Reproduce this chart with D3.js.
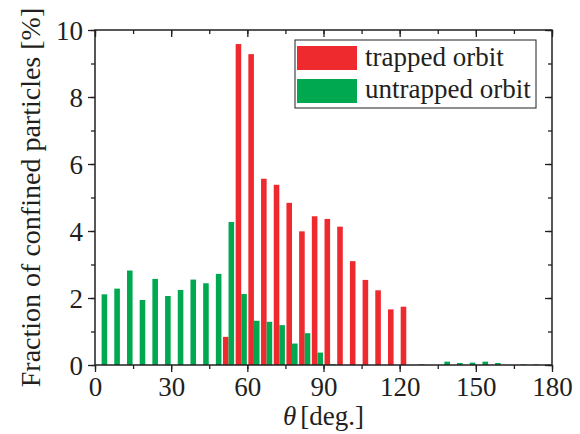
<!DOCTYPE html>
<html>
<head>
<meta charset="utf-8">
<script src="https://cdn.jsdelivr.net/npm/d3@7"></script>
<style>
  body { margin: 0; background: #fff; }
  text { font-family: "Liberation Serif", "Times New Roman", serif; fill: #231f20; }
</style>
</head>
<body>
<div id="chart-area"></div>
<script>
// bin starts, 5 degree bins from 0 to 175
let bins = d3.range(0, 180, 5);
let trapped = [0, 0, 0, 0, 0, 0, 0, 0, 0, 0,
  0.84, 9.58, 9.28, 5.56, 5.38, 4.84, 3.99, 4.44, 4.36, 4.13,
  3.10, 2.54, 2.23, 1.66, 1.74, 0, 0, 0, 0, 0,
  0, 0, 0, 0, 0, 0];
let untrapped = [2.11, 2.28, 2.82, 1.94, 2.57, 2.06, 2.24, 2.55, 2.44, 2.72,
  4.27, 2.12, 1.32, 1.29, 1.19, 0.64, 0.95, 0.37, 0.02, 0,
  0, 0, 0, 0, 0, 0.02, 0, 0.10, 0.06, 0.07,
  0.10, 0.06, 0, 0.02, 0.02, 0];
let series_names = ["trapped orbit", "untrapped orbit"];
let x_ticks = [0, 30, 60, 90, 120, 150, 180];
let y_ticks = [0, 2, 4, 6, 8, 10];

let colors = { "trapped orbit": "#ee2a2f", "untrapped orbit": "#00a84f" };

let margin = { left: 95, right: 28, top: 30, bottom: 69 };
let width = 580 - margin.left - margin.right;
let height = 434 - margin.top - margin.bottom;

let svg = d3.select("#chart-area")
  .append("svg")
    .attr("width", 580)
    .attr("height", 434);

let group = svg.append("g")
  .attr("transform", `translate(${margin.left}, ${margin.top})`);

let x = d3.scaleLinear().domain([0, 180]).range([0, width]);
let y = d3.scaleLinear().domain([0, 10]).range([height, 0]);

let bin_scale = d3.scaleBand()
  .domain(bins)
  .range([0, width])
  .padding(0);
let inner = d3.scaleBand()
  .domain(series_names)
  .range([bin_scale.bandwidth() * 0.08, bin_scale.bandwidth() * 0.96]);

// ----------------- Bars -----------------
let rows = [];
bins.forEach((b, i) => {
  rows.push({ bin: b, name: series_names[0], value: trapped[i] });
  rows.push({ bin: b, name: series_names[1], value: untrapped[i] });
});

group.selectAll("rect.bar")
  .data(rows.filter(d => d.value > 0))
  .enter()
  .append("rect")
    .attr("class", "bar")
    .attr("x", d => bin_scale(d.bin) + inner(d.name))
    .attr("width", inner.bandwidth())
    .attr("y", d => y(d.value))
    .attr("height", d => height - y(d.value))
    .attr("fill", d => colors[d.name]);

// ----------------- Axes -----------------
let axis_color = "#231f20";
function style_axis(g) {
  g.select(".domain").remove();
  g.selectAll("line").attr("stroke", axis_color).attr("stroke-width", 1.3);
}

let x_minor = d3.range(0, 181, 15);
let y_minor = d3.range(0, 11, 1);

// bottom
let xb = group.append("g").attr("transform", `translate(0, ${height})`);
xb.call(d3.axisBottom(x).tickValues(x_minor).tickSize(4).tickFormat(""));
xb.call(style_axis);
let xb2 = group.append("g").attr("transform", `translate(0, ${height})`);
xb2.call(d3.axisBottom(x).tickValues(x_ticks).tickSize(7));
xb2.call(style_axis);
xb2.selectAll("text").attr("font-size", "27px").attr("y", 31).attr("dy", 0);

// top
let xt = group.append("g");
xt.call(d3.axisBottom(x).tickValues(x_minor).tickSize(4).tickFormat(""));
xt.call(style_axis);
let xt2 = group.append("g");
xt2.call(d3.axisBottom(x).tickValues(x_ticks).tickSize(7).tickFormat(""));
xt2.call(style_axis);

// left
let yl = group.append("g");
yl.call(d3.axisLeft(y).tickValues(y_minor).tickSize(4).tickFormat(""));
yl.call(style_axis);
let yl2 = group.append("g");
yl2.call(d3.axisLeft(y).tickValues(y_ticks).tickSize(7).tickPadding(5));
yl2.call(style_axis);
yl2.selectAll("text").attr("font-size", "27px").attr("dy", "0.34em");

// right
let yr = group.append("g").attr("transform", `translate(${width}, 0)`);
yr.call(d3.axisLeft(y).tickValues(y_minor).tickSize(4).tickFormat(""));
yr.call(style_axis);
let yr2 = group.append("g").attr("transform", `translate(${width}, 0)`);
yr2.call(d3.axisLeft(y).tickValues(y_ticks).tickSize(7).tickFormat(""));
yr2.call(style_axis);

// frame
group.append("rect")
  .attr("x", 0).attr("y", 0)
  .attr("width", width).attr("height", height)
  .attr("fill", "none")
  .attr("stroke", axis_color)
  .attr("stroke-width", 1.5);

// ----------------- Labels -----------------
let x_label = group.append("text")
  .attr("x", width / 2)
  .attr("y", height + 60)
  .attr("font-size", "27px")
  .attr("text-anchor", "middle");
x_label.append("tspan").attr("font-style", "italic").text("θ");
x_label.append("tspan").attr("dx", "4").text("[deg.]");

group.append("text")
  .attr("x", -height / 2)
  .attr("y", -55)
  .attr("font-size", "28px")
  .attr("text-anchor", "middle")
  .attr("transform", "rotate(-90)")
  .text("Fraction of confined particles [%]");

// ----------------- Legend -----------------
let legend = group.append("g").attr("transform", "translate(200, 10)");
legend.append("rect")
  .attr("x", 0).attr("y", 0)
  .attr("width", 241).attr("height", 68)
  .attr("fill", "#fff")
  .attr("stroke", axis_color)
  .attr("stroke-width", 1);
series_names.forEach((name, i) => {
  legend.append("rect")
    .attr("x", 2).attr("y", 6 + i * 33)
    .attr("width", 60).attr("height", 24)
    .attr("fill", colors[name]);
  legend.append("text")
    .attr("x", 70).attr("y", 26 + i * 32)
    .attr("font-size", "27px")
    .text(name);
});
</script>
</body>
</html>
